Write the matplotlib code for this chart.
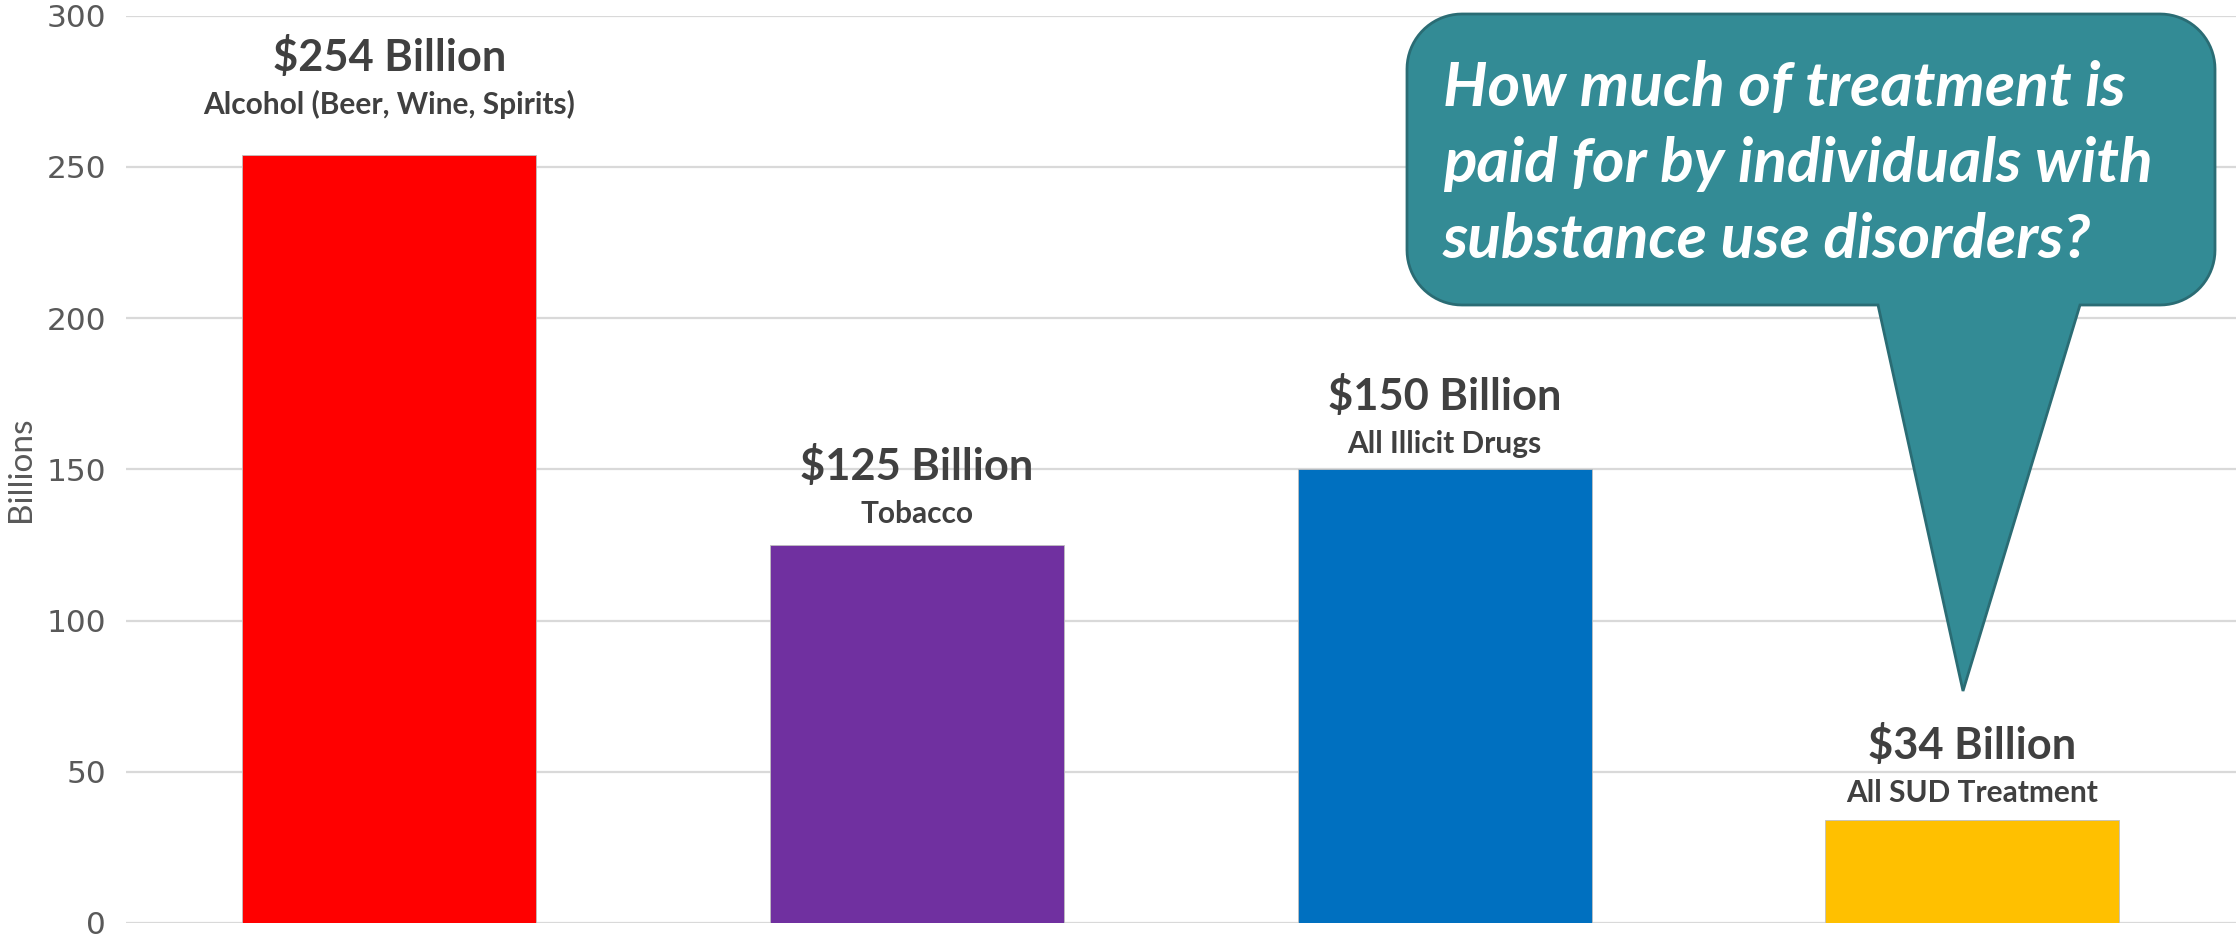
import matplotlib
matplotlib.use("Agg")
import matplotlib.pyplot as plt
import numpy as np
from matplotlib.path import Path
from matplotlib.patches import PathPatch
from matplotlib.transforms import IdentityTransform

# Data
categories = ["Alcohol (Beer, Wine, Spirits)", "Tobacco", "All Illicit Drugs", "All SUD Treatment"]
values = [254, 125, 150, 34]
value_labels = ["$254 Billion", "$125 Billion", "$150 Billion", "$34 Billion"]
colors = ["#FF0000", "#7030A0", "#0070C0", "#FFC000"]
y_ticks = [0, 50, 100, 150, 200, 250, 300]
callout_text = "How much of treatment is\npaid for by individuals with\nsubstance use disorders?"

W, H = 2236, 936
fig = plt.figure(figsize=(W / 100, H / 100), dpi=100)
ax = fig.add_axes([125.5 / W, 13 / H, 1 - 125.5 / W, (923 - 15.7) / H])

x = np.arange(len(values))
ax.bar(x, values, width=0.557, color=colors, edgecolor="#BFBFBF", linewidth=0.6, zorder=3)

ax.set_xlim(-0.5, len(values) - 0.5)
ax.set_ylim(0, 300)
ax.set_yticks(y_ticks)
ax.set_xticks([])
ax.yaxis.grid(True, color="#D9D9D9", linewidth=1.6, zorder=0)
for s in ax.spines.values():
    s.set_visible(False)
ax.tick_params(axis="y", length=0, pad=14, labelsize=22.5, labelcolor="#595959")
for t in ax.get_yticklabels():
    t.set_fontfamily("DejaVu Sans")
ax.set_ylabel("Billions", fontsize=24, color="#595959", family="Lato")
ax.yaxis.set_label_coords(-(125.5 - 21) / (W - 125.5), 0.5)
ax.yaxis.label.set_va("center")

# bar labels (pixel gap above bar top)
sub_pad = [50, 31, 25, 27]
for xi, v, lab, cat, p in zip(x, values, value_labels, categories, sub_pad):
    ax.annotate(cat, (xi, v), xytext=(0, p), textcoords="offset pixels",
                ha="center", va="center", fontsize=21.5, fontweight="bold",
                family="Lato", color="#404040", zorder=4)
    ax.annotate(lab, (xi, v), xytext=(0, p + 48), textcoords="offset pixels",
                ha="center", va="center", fontsize=31.2, fontweight="bold",
                family="Lato", color="#404040", zorder=4)

# callout bubble, pixel coords (image y measured from top)
L, R, T, B, r = 1407, 2215, 14, 305, 55
tl, tr, tip = 1878, 2080, (1963, 691)


def arc(cx, cy, a0, a1):
    a = np.linspace(np.radians(a0), np.radians(a1), 20)
    return [(cx + r * np.cos(a[i]), cy + r * np.sin(a[i])) for i in range(len(a))]


# y-up display coords
Td, Bd = H - T, H - B
pts = []
pts += arc(L + r, Td - r, 180, 90)
pts += arc(R - r, Td - r, 90, 0)
pts += arc(R - r, Bd + r, 0, -90)
pts += [(tr, Bd), (tip[0], H - tip[1]), (tl, Bd)]
pts += arc(L + r, Bd + r, -90, -180)
pts.append(pts[0])
codes = [Path.MOVETO] + [Path.LINETO] * (len(pts) - 2) + [Path.CLOSEPOLY]
bubble = PathPatch(Path(pts, codes), facecolor="#338B95", edgecolor="#2A6C74",
                   linewidth=2, transform=IdentityTransform(), zorder=10)
fig.patches.append(bubble)
bubble.set_figure(fig)

fig.text(1443 / W, 1 - 164 / H, callout_text, ha="left", va="center",
         fontsize=44.8, fontweight="bold", fontstyle="italic", family="Lato",
         color="white", linespacing=1.44, zorder=11)

fig.savefig("out.png", dpi=100)
